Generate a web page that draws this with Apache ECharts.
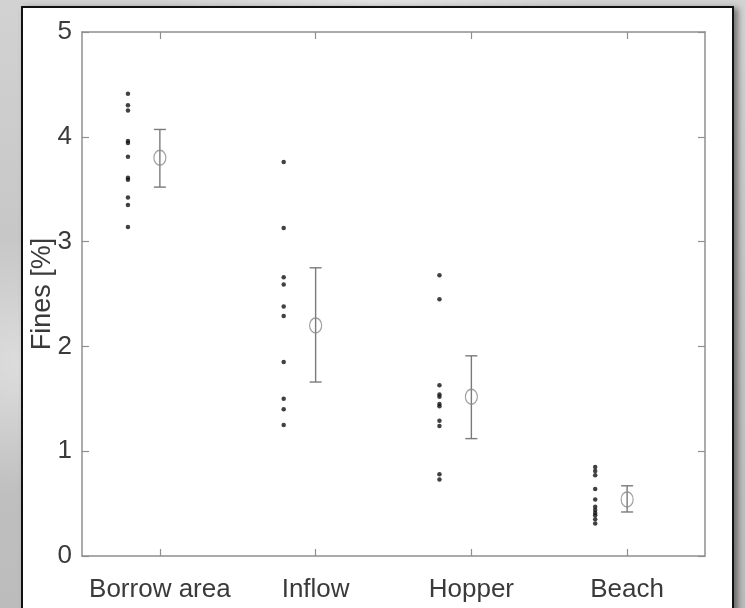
<!DOCTYPE html>
<html>
<head>
<meta charset="utf-8">
<script src="https://cdn.jsdelivr.net/npm/echarts@6/dist/echarts.min.js"></script>
<style>
html,body{margin:0;padding:0;width:745px;height:608px;overflow:hidden;}
body{background:
  radial-gradient(ellipse at 5% 60%, rgba(255,255,255,0.45) 0%, rgba(255,255,255,0) 25%),
  radial-gradient(ellipse at 50% 0%, rgba(255,255,255,0.35) 0%, rgba(255,255,255,0) 40%),
  linear-gradient(180deg,#d2d2d2 0%,#c4c4c4 50%,#bcbcbc 100%);}
#panel{position:absolute;left:21px;top:6px;width:709px;height:640px;background:#fff;border:2px solid #111;box-shadow:4px 2px 6px rgba(0,0,0,0.45);}
#chart{position:absolute;left:0;top:0;width:745px;height:608px;}
</style>
</head>
<body>
<div id="panel"></div>
<div id="chart"></div>
<script>
var categories = ['Borrow area', 'Inflow', 'Hopper', 'Beach'];
var yTicks = [0, 1, 2, 3, 4, 5];

var borrowDots = [4.41, 4.30, 4.25, 3.96, 3.94, 3.81, 3.61, 3.59, 3.42, 3.35, 3.14];
var inflowDots = [3.76, 3.13, 2.66, 2.59, 2.38, 2.29, 1.85, 1.50, 1.40, 1.25];
var hopperDots = [2.68, 2.45, 1.63, 1.54, 1.52, 1.45, 1.43, 1.29, 1.24, 0.78, 0.73];
var beachDots  = [0.85, 0.81, 0.77, 0.64, 0.54, 0.47, 0.44, 0.41, 0.39, 0.35, 0.31];

var means = [3.80, 2.20, 1.52, 0.54];
var errLow = [3.52, 1.66, 1.12, 0.42];
var errHigh = [4.07, 2.75, 1.91, 0.67];

var dotOffset = -0.205;

var allDots = [borrowDots, inflowDots, hopperDots, beachDots];
var dotData = [];
allDots.forEach(function (arr, i) {
  arr.forEach(function (v) { dotData.push([i + dotOffset, v]); });
});
var meanData = means.map(function (m, i) { return [i, m]; });
var errData = means.map(function (m, i) { return [i, errLow[i], errHigh[i]]; });

var axisColor = '#8f8f8f';
var textColor = '#3a3a3a';
var font = '"Liberation Sans", Arial, sans-serif';

var chart = echarts.init(document.getElementById('chart'), null, {renderer: 'canvas'});
chart.setOption({
  animation: false,
  backgroundColor: 'transparent',
  grid: {left: 82, top: 32, right: 40, bottom: 52, containLabel: false},
  xAxis: [
    {
      type: 'category', data: categories, position: 'bottom', boundaryGap: true,
      axisLine: {show: true, onZero: false, lineStyle: {color: axisColor, width: 1.5}},
      axisTick: {show: true, inside: true, alignWithLabel: true, length: 7, lineStyle: {color: axisColor, width: 1.2}},
      axisLabel: {color: textColor, fontFamily: font, fontSize: 26, margin: 21, interval: 0},
      splitLine: {show: false}
    },
    {
      type: 'category', data: categories, position: 'top', boundaryGap: true,
      axisLine: {show: true, onZero: false, lineStyle: {color: axisColor, width: 1.5}},
      axisTick: {show: true, inside: true, alignWithLabel: true, length: 7, lineStyle: {color: axisColor, width: 1.2}},
      axisLabel: {show: false},
      splitLine: {show: false}
    },
    {
      type: 'value', min: -0.5, max: 3.5, show: false, splitLine: {show: false},
      axisLine: {onZero: false}
    }
  ],
  yAxis: [
    {
      type: 'value', min: 0, max: 5, interval: 1, position: 'left',
      name: 'Fines [%]', nameLocation: 'middle', nameGap: 26, nameRotate: 90, nameMoveOverlap: false,
      nameTextStyle: {color: textColor, fontFamily: font, fontSize: 27},
      axisLine: {show: true, onZero: false, lineStyle: {color: axisColor, width: 1.5}},
      axisTick: {show: true, inside: true, length: 7, lineStyle: {color: axisColor, width: 1.2}},
      axisLabel: {color: textColor, fontFamily: font, fontSize: 26, margin: 10,
        formatter: function (v) { return yTicks.indexOf(v) >= 0 ? String(v) : ''; }},
      splitLine: {show: false}
    },
    {
      type: 'value', min: 0, max: 5, interval: 1, position: 'right',
      axisLine: {show: true, onZero: false, lineStyle: {color: axisColor, width: 1.5}},
      axisTick: {show: true, inside: true, length: 7, lineStyle: {color: axisColor, width: 1.2}},
      axisLabel: {show: false},
      splitLine: {show: false}
    }
  ],
  series: [
    {
      type: 'scatter', xAxisIndex: 2, yAxisIndex: 0, data: dotData,
      symbol: 'circle', symbolSize: 4.5,
      itemStyle: {color: '#111'}, silent: true
    },
    {
      type: 'custom', xAxisIndex: 2, yAxisIndex: 0, data: errData,
      renderItem: function (params, api) {
        var x = api.value(0);
        var lo = api.coord([x, api.value(1)]);
        var hi = api.coord([x, api.value(2)]);
        var hw = 6;
        var st = {stroke: '#7a7a7a', lineWidth: 1.4};
        return {
          type: 'group',
          children: [
            {type: 'line', shape: {x1: lo[0], y1: lo[1], x2: hi[0], y2: hi[1]}, style: st},
            {type: 'line', shape: {x1: lo[0] - hw, y1: lo[1], x2: lo[0] + hw, y2: lo[1]}, style: st},
            {type: 'line', shape: {x1: hi[0] - hw, y1: hi[1], x2: hi[0] + hw, y2: hi[1]}, style: st}
          ]
        };
      },
      silent: true
    },
    {
      type: 'scatter', xAxisIndex: 2, yAxisIndex: 0, data: meanData,
      symbol: 'circle', symbolSize: [12, 15],
      itemStyle: {color: 'rgba(0,0,0,0)', borderColor: '#8a8a8a', borderWidth: 1.3},
      silent: true, z: 5
    }
  ]
});
</script>
</body>
</html>
